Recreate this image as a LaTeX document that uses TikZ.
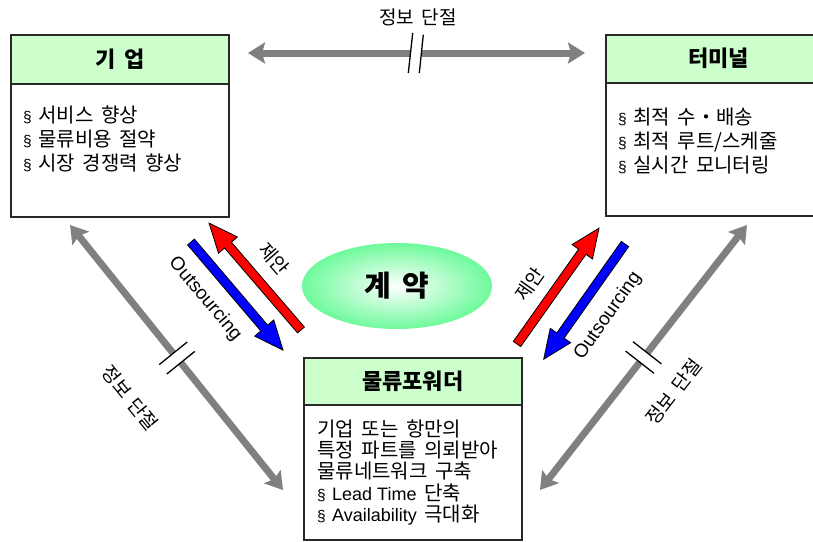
\documentclass[tikz,border=0pt]{standalone}
\usepackage{fontspec}
\setmainfont{Noto Sans CJK KR}[WordSpace=1.7]
\newfontfamily\latf{Liberation Sans}
\usetikzlibrary{arrows.meta,shapes.geometric}
\definecolor{hdr}{RGB}{204,255,204}
\definecolor{arrgray}{RGB}{128,128,128}
\definecolor{ellg}{RGB}{110,250,155}
\definecolor{bord}{RGB}{40,40,40}
\newcommand\sect{\makebox[15pt][l]{\latf\fontsize{15.5}{15.5}\selectfont §}}
\newcommand\blockarrow[4]{%
  \begin{scope}[shift={(#2)}, rotate=#3]
    \filldraw[fill=#1, draw=black, line width=0.8pt, line join=miter]
      (0pt,-4.5pt) -- (#4pt-29pt,-4.5pt) -- (#4pt-29pt,-12.5pt) -- (#4pt,0pt)
      -- (#4pt-29pt,12.5pt) -- (#4pt-29pt,4.5pt) -- (0pt,4.5pt) -- cycle;
  \end{scope}}
\begin{document}
\begin{tikzpicture}[x=1pt,y=-1pt,
  box/.style={draw=bord, line width=1.5pt, fill=white, anchor=north west, inner sep=0pt},
  hdrbox/.style={draw=bord, line width=1.5pt, fill=hdr, anchor=north west, inner sep=0pt},
  title/.style={font=\bfseries\fontsize{22}{22}\selectfont, inner sep=0pt},
  content/.style={align=left, anchor=west, inner sep=0pt, font=\fontsize{20}{24}\selectfont},
  lbl/.style={inner sep=0pt, font=\fontsize{19}{19}\selectfont},
  latlbl/.style={inner sep=0pt, font=\latf\fontsize{19}{19}\selectfont},
  grayarr/.style={draw=arrgray, line width=7pt},
  gtip/.tip={Stealth[length=17pt,width=21pt,inset=3pt]},
  brk/.style={draw=black, line width=1.3pt}
]
\useasboundingbox (0,0) rectangle (813,541);

% ---------- boxes ----------
\node[box, minimum width=218pt, minimum height=182pt] (gbox) at (10,34) {};
\node[hdrbox, minimum width=218pt, minimum height=49pt] (ghdr) at (10,34) {};
\node[title] (gtitle) at (ghdr.center) {기 업};
\node[content] (gtext) at (23,139) {\sect{}서비스 향상\\ \sect{}물류비용 절약\\ \sect{}시장 경쟁력 향상};

\node[box, minimum width=226pt, minimum height=181pt] (tbox) at (605,34) {};
\node[hdrbox, minimum width=226pt, minimum height=48pt] (thdr) at (605,34) {};
\node[title] (ttitle) at (thdr.center) {터미널};
\node[content] (ttext) at (618,141) {\sect{}최적 수・배송\\ \sect{}최적 루트/스케줄\\ \sect{}실시간 모니터링};

\node[box, minimum width=218pt, minimum height=182pt] (mbox) at (303,357) {};
\node[hdrbox, minimum width=218pt, minimum height=47pt] (mhdr) at (303,357) {};
\node[title] (mtitle) at (mhdr.center) {물류포워더};
\node[content, font=\fontsize{20}{21.3}\selectfont] (mtext) at (317,472.5)
  {기업 또는 항만의\\ 특정 파트를 의뢰받아\\ 물류네트워크 구축\\ \sect{\latf\fontsize{18}{18}\selectfont Lead Time} 단축\\ \sect{\latf\fontsize{18}{18}\selectfont Availability} 극대화};

% ---------- contract ellipse ----------
\node[ellipse, minimum width=190pt, minimum height=86pt, shading=radial,
      inner color=white, outer color=ellg,
      font=\bfseries\fontsize{29}{29}\selectfont] (ell) at (397,286) {계 약};

% ---------- top gray arrow ----------
\coordinate (t1) at (248,53);
\coordinate (tb1) at (410.5,53);
\coordinate (tb2) at (421.5,53);
\coordinate (t2) at (585,53);
\draw[grayarr, gtip-] (t1) -- (tb1);
\draw[grayarr, -gtip] (tb2) -- (t2);
\draw[brk] (412.7,33) -- (408.3,73);
\draw[brk] (423.3,34.7) -- (419.3,73);
\node[lbl] (toplbl) at (418,17) {정보 단절};

% ---------- left gray arrow ----------
\coordinate (l1) at (70,225);
\coordinate (lb1) at (173.2,353.3);
\coordinate (lb2) at (180.8,362.7);
\coordinate (l2) at (283,490);
\draw[grayarr, gtip-] (l1) -- (lb1);
\draw[grayarr, -gtip] (lb2) -- (l2);
\draw[brk] (159.2,364.6) -- (187.2,342.0);
\draw[brk] (166.8,374.0) -- (194.8,351.4);
\node[lbl, rotate=-51] (leftlbl) at (130,398) {정보 단절};

% ---------- right gray arrow ----------
\coordinate (r1) at (540,490);
\coordinate (rb1) at (639.8,362.2);
\coordinate (rb2) at (647.2,352.8);
\coordinate (r2) at (747,225);
\draw[grayarr, gtip-] (r1) -- (rb1);
\draw[grayarr, -gtip] (rb2) -- (r2);
\draw[brk] (625.6,351.1) -- (654.0,373.3);
\draw[brk] (633.0,341.7) -- (661.4,363.9);
\node[lbl, rotate=52] (rightlbl) at (674,392) {정보 단절};

% ---------- block arrows ----------
\coordinate (lrtail) at (301,330);
\coordinate (lbtail) at (191,242);
\coordinate (rrtail) at (517,344);
\coordinate (rbtail) at (625,244);
\blockarrow{red}{lrtail}{130.7}{141}
\blockarrow{blue}{lbtail}{-49.6}{142}
\blockarrow{red}{rrtail}{54.7}{142}
\blockarrow{blue}{rbtail}{-125.2}{141}

\node[lbl, rotate=-49] (lprop) at (274,259) {제안};
\node[latlbl, rotate=-50] (lout) at (205,299) {Outsourcing};
\node[lbl, rotate=55] (rprop) at (530,284) {제안};
\node[latlbl, rotate=55] (rout) at (608,316) {Outsourcing};
\end{tikzpicture}
\end{document}
